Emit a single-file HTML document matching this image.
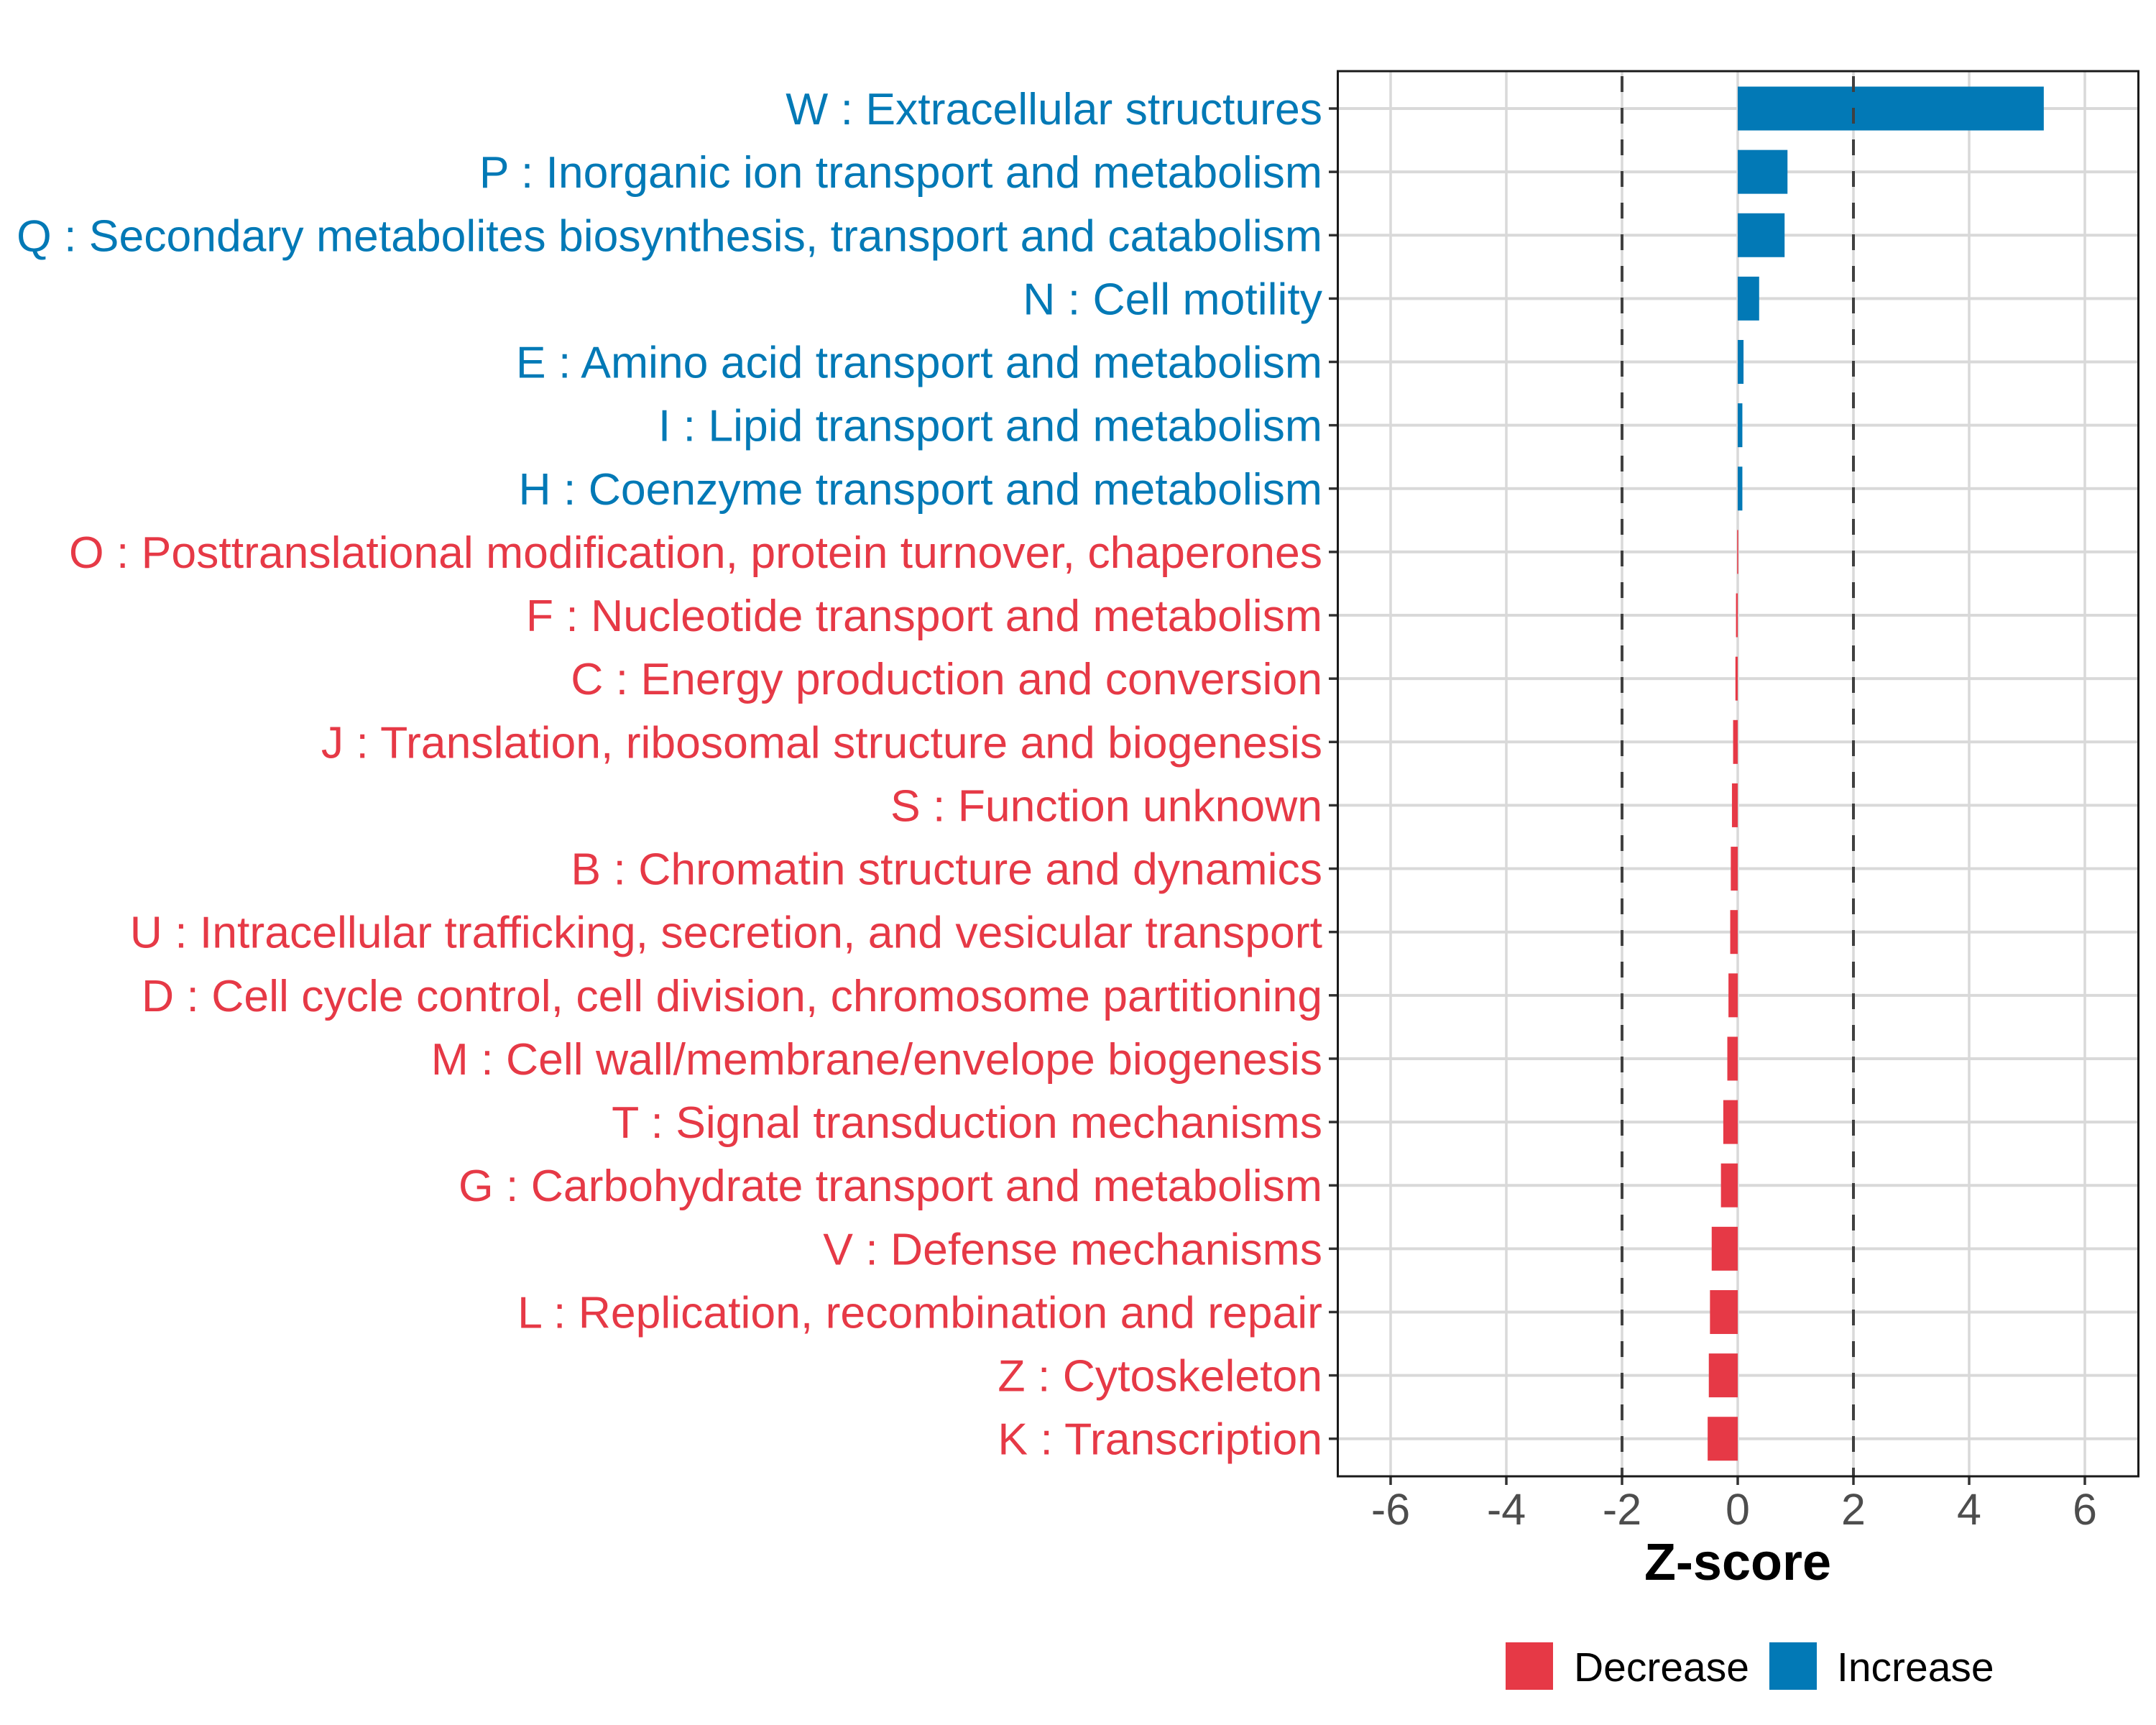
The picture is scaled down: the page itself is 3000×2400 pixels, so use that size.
<!DOCTYPE html>
<html><head><meta charset="utf-8"><style>
html,body{margin:0;padding:0;background:#fff;}
svg{display:block;font-family:"Liberation Sans",Arial,sans-serif;}
</style></head><body>
<svg id="chart" width="3000" height="2400" viewBox="0 0 3000 2400" xmlns="http://www.w3.org/2000/svg">
<rect x="0" y="0" width="3000" height="2400" fill="#fff"/>
<g id="grid"></g><g id="bars"></g><g id="labels"></g><g id="xaxis"></g>
<rect x="1861.5" y="99" width="1114" height="1955" fill="none" stroke="#1a1a1a" stroke-width="3"/>
<text x="2418" y="2198" font-size="72" font-weight="bold" text-anchor="middle" fill="#000">Z-score</text>
<g>
<rect x="2095" y="2285" width="66" height="66" fill="#E63946"/>
<text x="2190" y="2339" font-size="57" fill="#000">Decrease</text>
<rect x="2462" y="2285" width="66" height="66" fill="#0279B6"/>
<text x="2556" y="2339" font-size="57" fill="#000">Increase</text>
</g>
</svg>
<script>
const categories = ["W : Extracellular structures","P : Inorganic ion transport and metabolism","Q : Secondary metabolites biosynthesis, transport and catabolism","N : Cell motility","E : Amino acid transport and metabolism","I : Lipid transport and metabolism","H : Coenzyme transport and metabolism","O : Posttranslational modification, protein turnover, chaperones","F : Nucleotide transport and metabolism","C : Energy production and conversion","J : Translation, ribosomal structure and biogenesis","S : Function unknown","B : Chromatin structure and dynamics","U : Intracellular trafficking, secretion, and vesicular transport","D : Cell cycle control, cell division, chromosome partitioning","M : Cell wall/membrane/envelope biogenesis","T : Signal transduction mechanisms","G : Carbohydrate transport and metabolism","V : Defense mechanisms","L : Replication, recombination and repair","Z : Cytoskeleton","K : Transcription"];
const zscores = [5.29,0.86,0.81,0.37,0.1,0.08,0.08,-0.01,-0.03,-0.04,-0.08,-0.1,-0.12,-0.13,-0.16,-0.18,-0.25,-0.29,-0.45,-0.48,-0.5,-0.52];
const xTicks = [-6,-4,-2,0,2,4,6];
const thresholds = [-2,2];
const NS="http://www.w3.org/2000/svg";
const X0=2418, UNIT=80.5, Y0=151, STEP=88.13, BAR=61;
function xs(v){return X0+v*UNIT;}
function ys(i){return Y0+i*STEP;}
function mk(tag,attrs,parent){const e=document.createElementNS(NS,tag);for(const k in attrs)e.setAttribute(k,attrs[k]);parent.appendChild(e);return e;}
const grid=document.getElementById('grid'),bars=document.getElementById('bars'),labels=document.getElementById('labels'),xaxis=document.getElementById('xaxis');
xTicks.forEach(t=>{
  const l=mk('line',{x1:xs(t),x2:xs(t),y1:99,y2:2054,stroke:'#d9d9d9','stroke-width':3.5},grid);
  
  
  const tk=mk('line',{x1:xs(t),x2:xs(t),y1:2054,y2:2066,stroke:'#333','stroke-width':3.5},xaxis);
  
  
  const tx=mk('text',{x:xs(t),y:2121,'font-size':61,'text-anchor':'middle',fill:'#4d4d4d'},xaxis);
  tx.textContent=String(t);
  
  
});
categories.forEach((c,i)=>{
  const y=ys(i);
  const g=mk('line',{x1:1861.5,x2:2975.5,y1:y,y2:y,stroke:'#d9d9d9','stroke-width':4},grid);
  
  
  const v=zscores[i];
  const col=v>=0?'#0279B6':'#E63946';
  const r=mk('rect',{x:Math.min(xs(0),xs(v)),y:y-BAR/2,width:Math.max(Math.abs(xs(v)-xs(0)),1.5),height:BAR,fill:col},bars);
  
  
  const tk=mk('line',{x1:1849,x2:1861.5,y1:y,y2:y,stroke:'#333','stroke-width':3.5},labels);
  
  
  const t=mk('text',{x:1840,y:y+22,'font-size':62.5,'text-anchor':'end',fill:col},labels);
  t.textContent=c;
  
  
});
thresholds.forEach(t=>{
  const l=mk('line',{x1:xs(t),x2:xs(t),y1:99,y2:2054,stroke:'#404040','stroke-width':4,'stroke-dasharray':'22 22','stroke-dashoffset':'-7'},bars);
  
  
});
</script>
</body></html>
